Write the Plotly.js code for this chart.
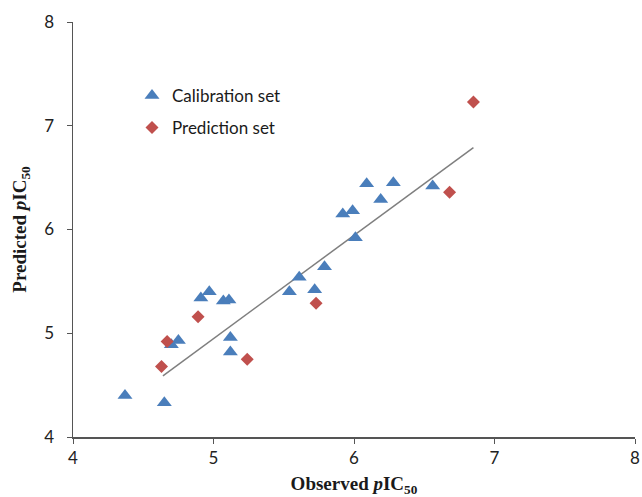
<!DOCTYPE html>
<html>
<head>
<meta charset="utf-8">
<script src="https://cdn.plot.ly/plotly-3.0.1.min.js"></script>
<style>html,body{margin:0;padding:0;background:#fff;}#chart{width:642px;height:497px;}</style>
</head>
<body>
<div id="chart"></div>
<script>
// Calibration set (observed, predicted)
var calObserved = [4.37, 4.65, 4.70, 4.75, 4.91, 4.97, 5.07, 5.11, 5.12, 5.12, 5.54, 5.61, 5.72, 5.79, 5.92, 5.99, 6.01, 6.09, 6.19, 6.28, 6.56];
var calPredicted = [4.40, 4.33, 4.89, 4.93, 5.34, 5.40, 5.31, 5.32, 4.96, 4.82, 5.40, 5.54, 5.42, 5.64, 6.15, 6.18, 5.92, 6.44, 6.29, 6.45, 6.42];
// Prediction set
var predObserved = [4.63, 4.67, 4.89, 5.24, 5.73, 6.68, 6.85];
var predPredicted = [4.68, 4.92, 5.16, 4.75, 5.29, 6.36, 7.23];
// Fitted line endpoints
var fitX = [4.64, 6.85];
var fitY = [4.59, 6.79];
var axisTicks = [4, 5, 6, 7, 8];

var traces = [
  {x: fitX, y: fitY, mode: 'lines', line: {color: '#7f7f7f', width: 1.5}, showlegend: false, hoverinfo: 'skip'},
  {x: calObserved, y: calPredicted, mode: 'markers', name: 'Calibration set',
   marker: {symbol: 'triangle-up', size: 13, color: '#4a7ebb'}, legend: 'legend'},
  {x: predObserved, y: predPredicted, mode: 'markers', name: 'Prediction set',
   marker: {symbol: 'diamond', size: 10, color: '#c0504d'}, legend: 'legend2'}
];

var tickFont = {family: 'Lato, "Open Sans", sans-serif', size: 17, color: '#222'};
var titleFont = {family: '"Liberation Serif", "Times New Roman", serif', size: 19, color: '#1a1a1a'};
var legFont = {family: 'Lato, "Open Sans", sans-serif', size: 17, color: '#1a1a1a'};

var layout = {
  width: 642, height: 497,
  margin: {l: 73, r: 7, t: 22, b: 60},
  paper_bgcolor: '#fff', plot_bgcolor: '#fff',
  xaxis: {
    range: [4, 8], tickvals: axisTicks, ticktext: axisTicks.map(String),
    showgrid: false, zeroline: false, showline: true, linecolor: '#555', linewidth: 1.5,
    ticks: 'outside', ticklen: 5, tickcolor: '#555', tickfont: tickFont,
    title: {text: '<b>Observed <i>p</i>IC<sub>50</sub></b>', font: titleFont, standoff: 10}
  },
  yaxis: {
    range: [4, 8], tickvals: axisTicks, ticktext: axisTicks.map(String),
    showgrid: false, zeroline: false, showline: true, linecolor: '#555', linewidth: 1.5,
    ticks: 'outside', ticklen: 5, tickcolor: '#555', tickfont: tickFont, ticklabelstandoff: 9,
    title: {text: '<b>Predicted <i>p</i>IC<sub>50</sub></b>', font: titleFont, standoff: 12}
  },
  legend: {x: 0.105, y: 0.865, xanchor: 'left', yanchor: 'top', font: legFont, bgcolor: 'rgba(0,0,0,0)'},
  legend2: {x: 0.105, y: 0.788, xanchor: 'left', yanchor: 'top', font: legFont, bgcolor: 'rgba(0,0,0,0)'}
};

Plotly.newPlot('chart', traces, layout, {displayModeBar: false, staticPlot: true});
</script>
</body>
</html>
